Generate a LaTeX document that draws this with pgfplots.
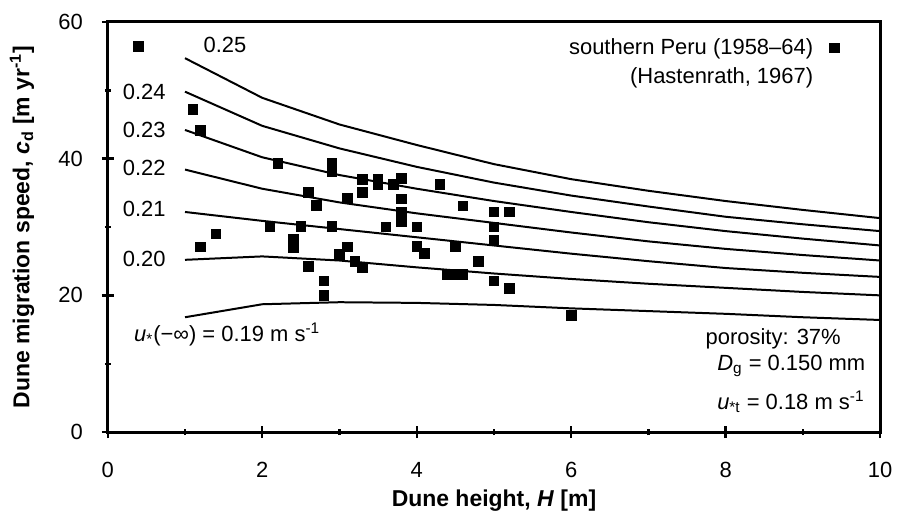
\documentclass[border=0pt]{standalone}
\usepackage{fontspec}
\setmainfont{Liberation Sans}
\usepackage{pgfplots}
\usepackage{pgfplotstable}
\pgfplotsset{compat=1.18}

\pgfplotstableread{
h   a19  a20  a21  a22  a23  a24  a25
1   16.8 25.2 32.2 38.4 44.2 49.8 54.7
2   18.7 25.7 30.9 35.6 40.2 44.8 48.9
3   19.0 25.1 29.7 33.6 37.6 41.5 45.0
4   18.9 24.1 28.5 32.0 35.6 38.8 42.0
5   18.6 23.2 27.3 30.6 33.8 36.5 39.2
6   18.1 22.4 26.1 29.2 32.2 34.6 37.0
7   17.7 21.7 25.0 27.9 30.7 33.0 35.3
8   17.3 21.1 24.0 26.8 29.4 31.5 33.8
9   16.8 20.5 23.3 25.9 28.3 30.4 32.5
10  16.4 20.0 22.7 25.1 27.3 29.4 31.3
}\curves

\pgfplotstableread{
h   c
0.4 56.4
1.1 47.2
1.2 44.1
1.2 27.1
1.4 29.0
2.1 30.1
2.2 39.3
2.4 28.2
2.4 27.0
2.5 30.1
2.6 35.1
2.6 24.2
2.7 33.2
2.8 22.1
2.8 20.0
2.9 39.4
2.9 38.1
2.9 30.1
3.0 26.0
3.1 34.2
3.1 27.1
3.2 25.0
3.3 37.0
3.3 35.1
3.3 24.0
3.5 37.0
3.5 36.2
3.6 30.0
3.7 36.2
3.8 37.1
3.8 34.1
3.8 32.1
3.8 30.8
4.0 30.0
4.0 27.2
4.1 26.1
4.3 36.2
4.4 23.1
4.5 23.1
4.6 23.1
4.5 27.1
4.6 33.1
4.8 25.0
5.0 32.2
5.0 30.0
5.0 28.1
5.0 22.1
5.2 32.2
5.2 21.0
6.0 17.1
}\peru

\begin{document}
\begin{tikzpicture}
\begin{axis}[
  scale only axis, width=387pt, height=205.5pt,
  xmin=0, xmax=10, ymin=0, ymax=60,
  axis lines=box,
  xtick={0,2,4,6,8,10}, ytick={0,20,40,60},
  minor xtick={1,3,5,7,9}, minor ytick={10,30,50},
  tick align=center, xtick pos=left, ytick pos=left,
  major tick length=6pt, minor tick length=3pt,
  axis line style={line width=1.5pt, draw=black},
  every tick/.style={black, line width=1.2pt},
  font=\fontsize{11}{13}\selectfont,
  /pgf/number format/assume math mode=true,
  xticklabel style={yshift=-8.5pt},
  yticklabel style={xshift=-6pt},
  xlabel={\bfseries Dune height, \textit{H} [m]},
  ylabel={\bfseries Dune migration speed, \textit{c}\textsubscript{d} [m yr\textsuperscript{-1}]},
  xlabel style={at={(axis description cs:0.5,-0.168)}, anchor=center, font=\fontsize{11.5}{13}\selectfont},
  ylabel style={at={(axis description cs:-0.111,0.5)}, anchor=center, font=\fontsize{11.5}{13}\selectfont},
  legend style={draw=none, fill=none, at={(axis cs:9.55,58.8)}, anchor=north east,
    font=\fontsize{11}{13}\selectfont, row sep=1pt},
  legend cell align=right, legend plot pos=right,
  clip=false,
]
\addplot[black, line width=1pt, forget plot] table[x=h, y=a19] {\curves};
\addplot[black, line width=1pt, forget plot] table[x=h, y=a20] {\curves};
\addplot[black, line width=1pt, forget plot] table[x=h, y=a21] {\curves};
\addplot[black, line width=1pt, forget plot] table[x=h, y=a22] {\curves};
\addplot[black, line width=1pt, forget plot] table[x=h, y=a23] {\curves};
\addplot[black, line width=1pt, forget plot] table[x=h, y=a24] {\curves};
\addplot[black, line width=1pt, forget plot] table[x=h, y=a25] {\curves};
\addplot[only marks, mark=square*, mark size=2.4pt, black] table[x=h, y=c] {\peru};
\addlegendentry{southern Peru (1958--64)}
\addlegendimage{empty legend}
\addlegendentry{(Hastenrath, 1967)}

\node[anchor=west] at (axis cs:1.15,56.6) {0.25};
\node[anchor=east] at (axis cs:0.84,49.8) {0.24};
\node[anchor=east] at (axis cs:0.84,44.2) {0.23};
\node[anchor=east] at (axis cs:0.84,38.6) {0.22};
\node[anchor=east] at (axis cs:0.84,32.6) {0.21};
\node[anchor=east] at (axis cs:0.84,25.3) {0.20};
\node[anchor=west] at (axis cs:0.25,14.3) {\textit{u}\textsubscript{*}(−∞) = 0.19 m s\textsuperscript{-1}};
\node[anchor=west] at (axis cs:7.65,13.6) {porosity: 37\%};
\node[anchor=west] at (axis cs:7.8,9.7) {\textit{D}\textsubscript{g} = 0.150 mm};
\node[anchor=west] at (axis cs:7.8,4.4) {\textit{u}\textsubscript{*t} = 0.18 m s\textsuperscript{-1}};
\end{axis}
\draw[line width=1.5pt, black] (current axis.south west) rectangle (current axis.north east);
\path ([shift={(-54pt,-42.5pt)}]current axis.south west) rectangle ([shift={(8.5pt,11pt)}]current axis.north east);
\end{tikzpicture}
\end{document}
